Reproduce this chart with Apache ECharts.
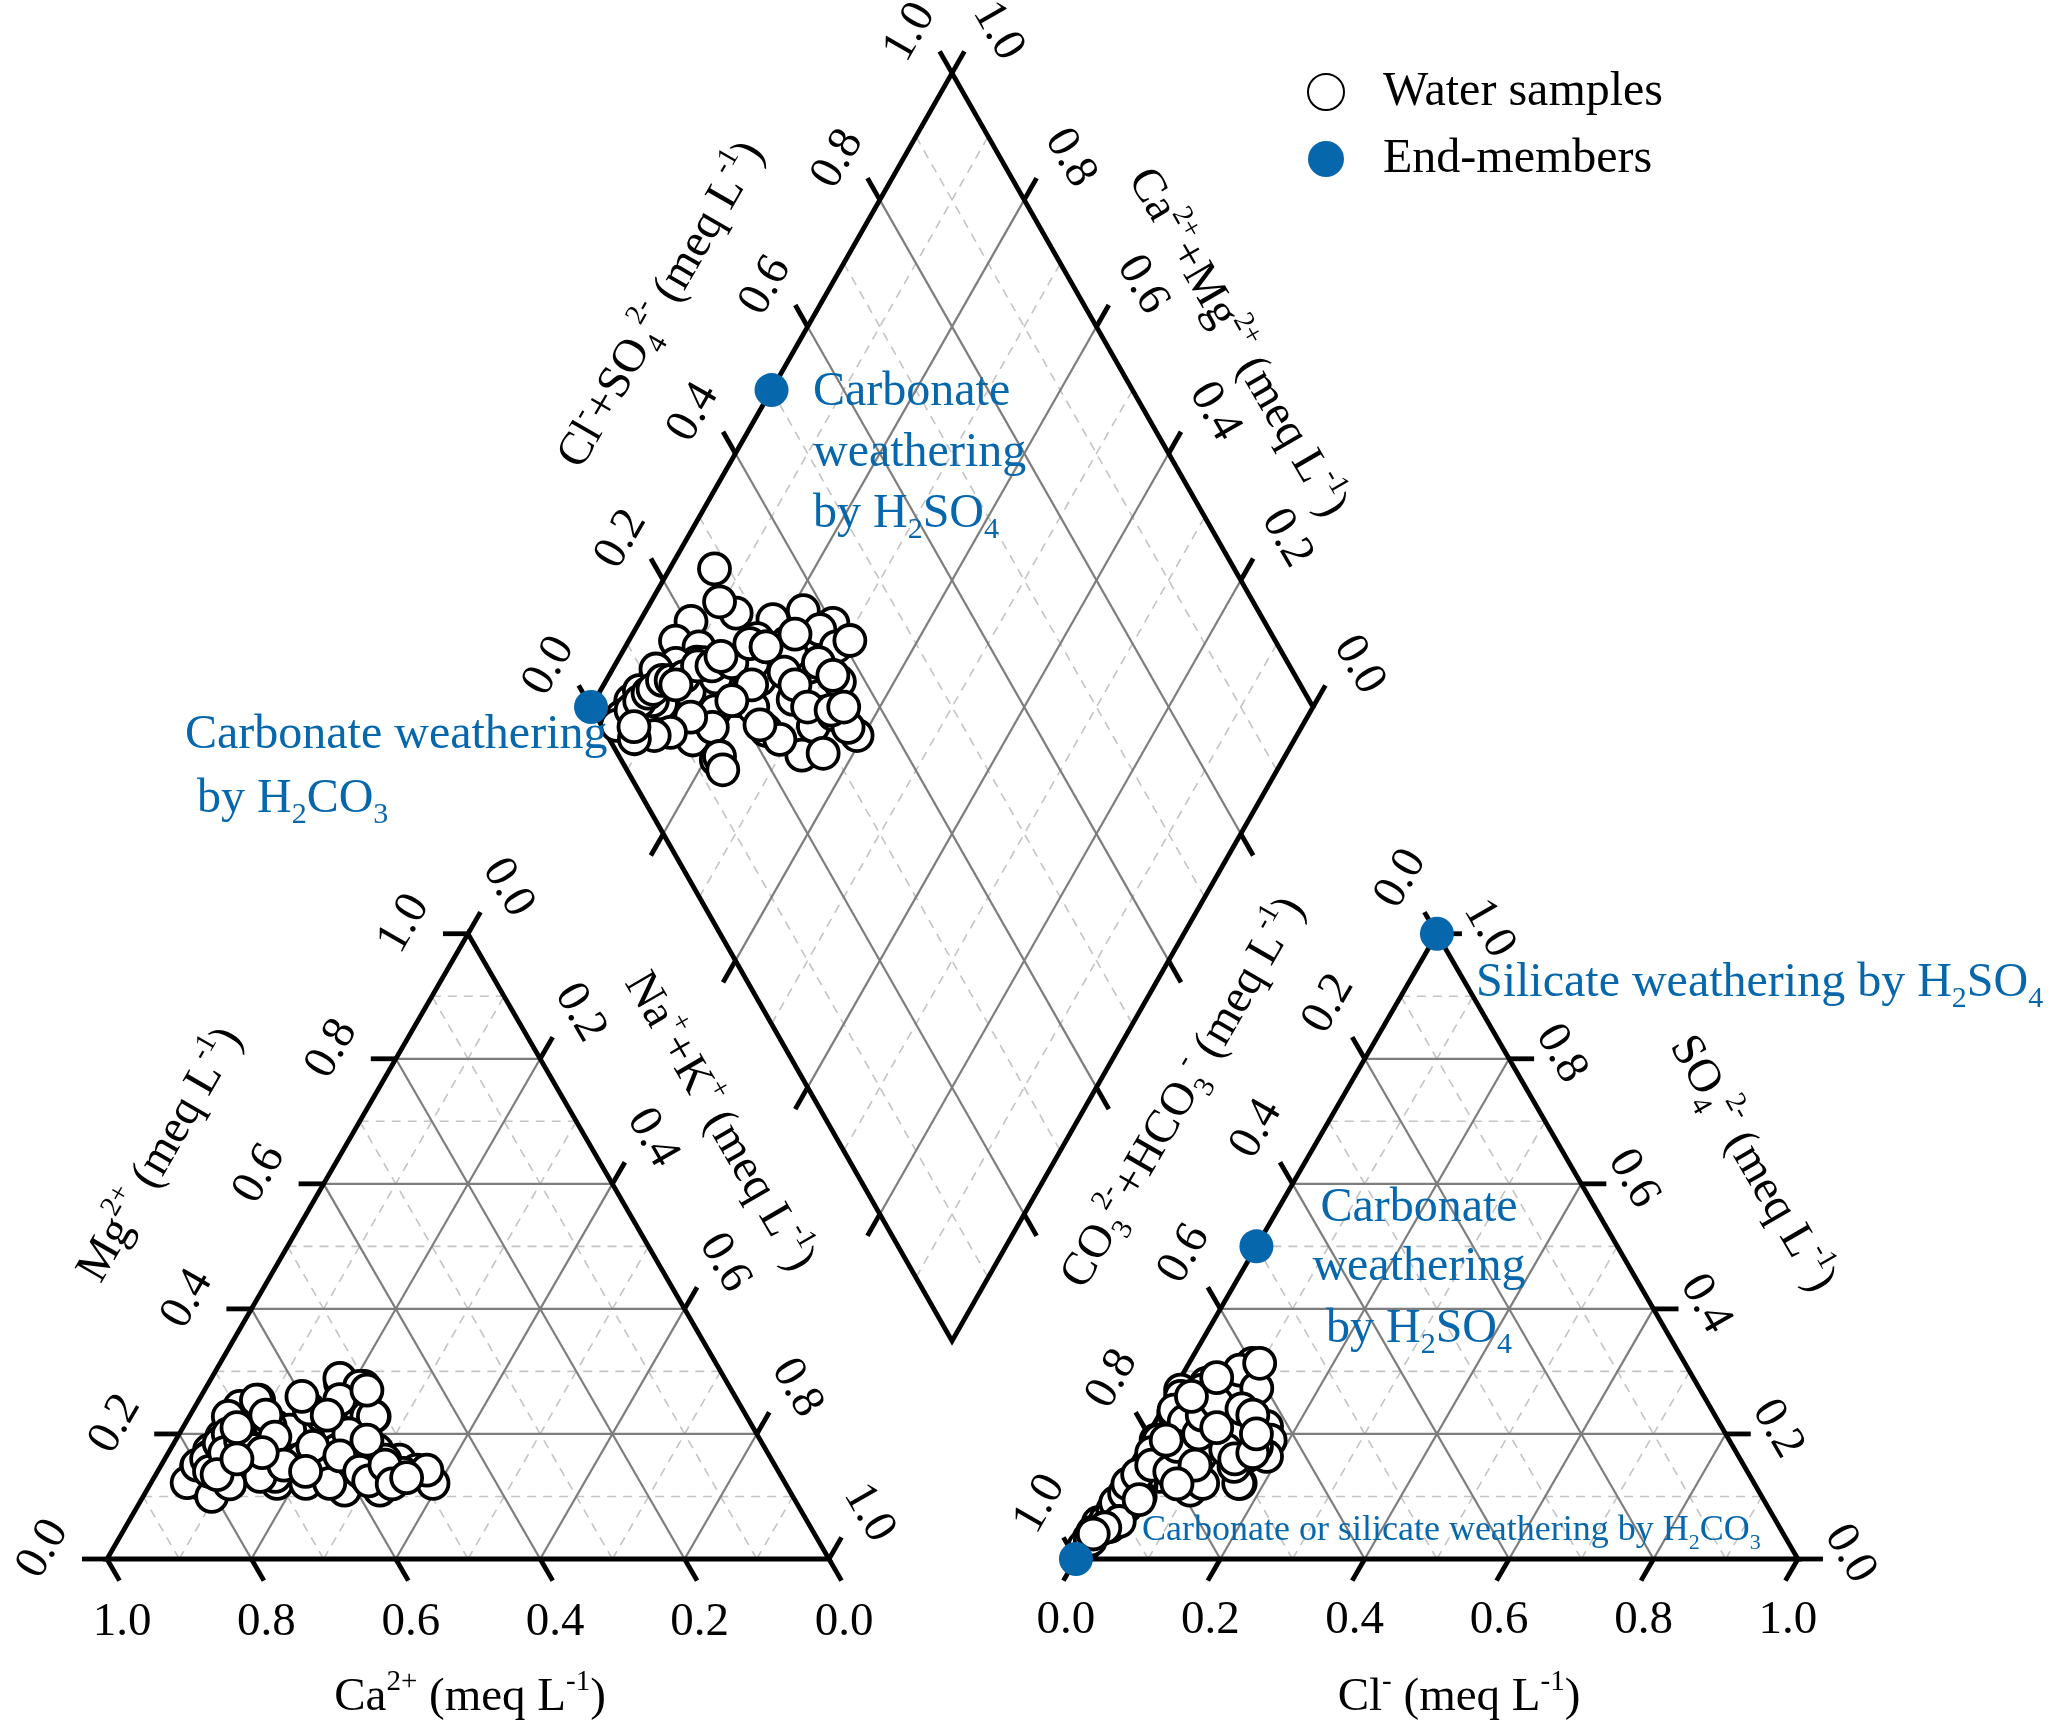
<!DOCTYPE html>
<html><head><meta charset="utf-8">
<script src="https://cdn.jsdelivr.net/npm/echarts@6/dist/echarts.min.js"></script>
<style>html,body{margin:0;padding:0;background:#fff}#c{width:2067px;height:1733px}</style>
</head><body><div id="c"></div>
<script>
// ---------------- DATA ----------------
// axis tick values and grid levels
const tickValues = [0, 0.2, 0.4, 0.6, 0.8, 1.0];
const majorValues = [0.2, 0.4, 0.6, 0.8];
const minorValues = [0.1, 0.3, 0.5, 0.7, 0.9];
// water samples: cation fractions (Na+ + K+, Mg2+; Ca2+ = 1 - the rest)
const sampleNaK = [0.062,0.071,0.127,0.095,0.183,0.218,0.269,0.256,0.176,0.220,0.065,0.102,0.158,0.111,0.229,0.271,0.324,0.203,0.124,0.069,
  0.061,0.175,0.261,0.326,0.391,0.330,0.167,0.215,0.200,0.274,0.224,0.184,0.323,0.287,0.083,0.066,0.217,0.232,0.358,0.178,
  0.212,0.292,0.306,0.050,0.055,0.050,0.054,0.095,0.146,0.150,0.190,0.246,0.248,0.255,0.342,0.080,0.060,0.050,0.120,0.372,
  0.058,0.063,0.068,0.072,0.078,0.090,0.105,0.115,0.135,0.160,0.170,0.195,0.205,0.235,0.240,0.265,0.280,0.300,0.310,0.335,
  0.350,0.140,0.195,0.225,0.190,0.130,0.110,0.085,0.075,0.100];
const sampleMg = [0.244,0.158,0.212,0.228,0.281,0.276,0.174,0.228,0.217,0.196,0.148,0.142,0.180,0.158,0.254,0.126,0.148,0.270,0.212,0.121,
  0.196,0.121,0.148,0.158,0.121,0.137,0.132,0.121,0.161,0.110,0.158,0.228,0.110,0.174,0.254,0.174,0.206,0.174,0.142,0.289,
  0.276,0.132,0.158,0.148,0.174,0.122,0.228,0.100,0.132,0.206,0.161,0.228,0.121,0.228,0.137,0.254,0.164,0.150,0.212,0.142,
  0.160,0.185,0.200,0.140,0.170,0.190,0.230,0.175,0.195,0.240,0.150,0.180,0.140,0.200,0.165,0.190,0.140,0.125,0.150,0.120,
  0.130,0.260,0.255,0.270,0.230,0.170,0.120,0.135,0.210,0.160];
// anion fractions (SO4 2-, Cl-; CO3 2- + HCO3- = 1 - the rest)
const sampleSO4 = [0.270,0.190,0.260,0.206,0.244,0.212,0.313,0.302,0.206,0.281,0.142,0.153,0.110,0.132,0.121,0.222,0.190,0.169,0.116,0.068,
  0.052,0.142,0.132,0.164,0.164,0.164,0.090,0.100,0.190,0.121,0.169,0.126,0.148,0.121,0.125,0.084,0.100,0.116,0.185,0.233,
  0.238,0.273,0.313,0.058,0.043,0.033,0.065,0.080,0.110,0.160,0.220,0.200,0.170,0.270,0.200,0.075,0.100,0.020,0.170,0.180,
  0.045,0.062,0.078,0.090,0.105,0.120,0.135,0.150,0.140,0.180,0.200,0.230,0.150,0.250,0.175,0.210,0.240,0.160,0.230,0.170,
  0.200,0.190,0.260,0.290,0.120,0.060,0.050,0.030,0.040,0.095];
const sampleCl = [0.010,0.016,0.015,0.055,0.077,0.158,0.088,0.076,0.078,0.040,0.027,0.044,0.103,0.050,0.167,0.112,0.174,0.066,0.032,0.022,
  0.021,0.027,0.092,0.154,0.182,0.090,0.025,0.032,0.020,0.165,0.055,0.026,0.145,0.115,0.027,0.028,0.039,0.017,0.100,0.019,
  0.017,0.114,0.098,0.002,0.002,0.002,0.015,0.020,0.020,0.036,0.040,0.100,0.050,0.040,0.130,0.015,0.020,0.001,0.020,0.160,
  0.008,0.010,0.012,0.010,0.015,0.012,0.018,0.030,0.060,0.050,0.070,0.060,0.090,0.070,0.120,0.090,0.110,0.140,0.130,0.160,
  0.150,0.030,0.030,0.050,0.080,0.030,0.015,0.005,0.004,0.040];
// end-members in the anion triangle (SO4, Cl)
const endSO4 = [1.0, 0.5, 0.0];
const endCl = [0.0, 0.0, 0.0];
// end-members in the diamond (Cl+SO4, Na+K)
const endDiaA = [0.5, 0.0];
const endDiaNa = [0.0, 0.0];

// ---------------- LAYOUT ----------------
const FONT = '"Liberation Serif", "Times New Roman", serif';
const BLUE = '#0767ad';
const U = 722, X0PX = 107, Y0PX = 1559, WPX = 2067, HPX = 1733;
const H = Math.sqrt(3) / 2;
const OXR = 1.342;
const DCX = 1.1704, DCY = 1.180, DHW = 0.5, DHH = 0.878;

function cat(na, mg) { return [na + mg / 2, mg * H]; }
function an(so4, cl) { return [OXR + cl + so4 / 2, so4 * H]; }
function dia(a, na) { return [DCX - DHW + (a + na) * DHW, DCY + (a - na) * DHH]; }
function px(x, y) { return [(x - X0PX) / U, (Y0PX - y) / U]; }
function norm(v) { const l = Math.hypot(v[0], v[1]); return [v[0] / l, v[1] / l]; }

// grid lines
function levelSegs(vals) {
  const s = [];
  vals.forEach(v => {
    s.push([...cat(0, v), ...cat(1 - v, v)]);
    s.push([...cat(1 - v, 0), ...cat(0, 1 - v)]);
    s.push([...cat(v, 0), ...cat(v, 1 - v)]);
    s.push([...an(v, 0), ...an(v, 1 - v)]);
    s.push([...an(0, v), ...an(1 - v, v)]);
    s.push([...an(1 - v, 0), ...an(0, 1 - v)]);
    s.push([...dia(v, 0), ...dia(v, 1)]);
    s.push([...dia(0, v), ...dia(1, v)]);
  });
  return s;
}
const minorSegs = levelSegs(minorValues);
const majorSegs = levelSegs(majorValues);

// ticks and tick labels
const TL = 25 / U;
const tickSegs = [];
const texts = [];
function addTick(p, dir, label, off, rot) {
  tickSegs.push([p[0], p[1], p[0] + dir[0] * TL, p[1] + dir[1] * TL]);
  if (label != null) texts.push({ x: p[0] + off[0] / U, y: p[1] - off[1] / U, text: label, rot: rot, size: 47 });
}
tickValues.forEach(t => {
  addTick(cat(t, 0), norm([0.5, -H]), (1 - t).toFixed(1), [15, 64], 0);
  addTick(cat(0, t), [-1, 0], t.toFixed(1), [-64, -10], 60);
  addTick(cat(t, 1 - t), norm([0.5, H]), t.toFixed(1), [40, -46], -60);
  addTick(an(0, t), norm([-0.5, -H]), t.toFixed(1), [-10, 62], 0);
  addTick(an(1 - t, 0), norm([-0.5, H]), t.toFixed(1), [-36, -55], 60);
  addTick(an(t, 1 - t), [1, 0], t.toFixed(1), [52, -5], -60);
  addTick(dia(t, 0), norm([-DHW, DHH]), t.toFixed(1), [-42, -41], 60);
  addTick(dia(1, t), norm([DHW, DHH]), (1 - t).toFixed(1), [46, -42], -60);
});
majorValues.forEach(t => {
  addTick(dia(0, t), norm([-DHW, -DHH]), null);
  addTick(dia(t, 1), norm([DHW, -DHH]), null);
});

// outlines
const polys = [
  [cat(0, 0), cat(1, 0), cat(0, 1)],
  [an(0, 0), an(0, 1), an(1, 0)],
  [dia(0, 0), dia(1, 0), dia(1, 1), dia(0, 1)]
];

// titles & annotations (pixel anchors)
function T(pxx, pxy, text, rot, opt) { const p = px(pxx, pxy); return Object.assign({ x: p[0], y: p[1], text: text, rot: rot, size: 47 }, opt || {}); }
texts.push(
  T(470, 1698, 'Ca{sup|2+} (meq L{sup|-1})', 0),
  T(161, 1155, 'Mg{sup|2+} (meq L{sup|-1})', 60),
  T(719, 1122, 'Na{sup|+}+K{sup|+} (meq L{sup|-1})', -60),
  T(662, 305, 'Cl{sup|-}+SO{sub|4}{sup|2-} (meq L{sup|-1})', 60),
  T(1237, 343, 'Ca{sup|2+}+Mg{sup|2+} (meq L{sup|-1})', -60),
  T(1184, 1093, 'CO{sub|3}{sup|2-}+HCO{sub|3}{sup|-} (meq L{sup|-1})', 60),
  T(1752, 1164, 'SO{sub|4}{sup|2-} (meq L{sup|-1})', -60),
  T(1459, 1698, 'Cl{sup|-} (meq L{sup|-1})', 0),
  T(185, 735, 'Carbonate weathering', 0, { color: BLUE, align: 'left', size: 48 }),
  T(197, 799, 'by H{sub|2}CO{sub|3}', 0, { color: BLUE, align: 'left', size: 48 }),
  T(813, 392, 'Carbonate', 0, { color: BLUE, align: 'left', size: 48 }),
  T(813, 453, 'weathering', 0, { color: BLUE, align: 'left', size: 48 }),
  T(813, 514, 'by H{sub|2}SO{sub|4}', 0, { color: BLUE, align: 'left', size: 48 }),
  T(1419, 1208, 'Carbonate', 0, { color: BLUE, size: 48 }),
  T(1419, 1267, 'weathering', 0, { color: BLUE, size: 48 }),
  T(1419, 1329, 'by H{sub|2}SO{sub|4}', 0, { color: BLUE, size: 48 }),
  T(1476, 983, 'Silicate weathering by H{sub|2}SO{sub|4}', 0, { color: BLUE, align: 'left', size: 48 }),
  T(1142, 1531, 'Carbonate or silicate weathering by H{sub|2}CO{sub|3}', 0, { color: BLUE, align: 'left', size: 36 })
);

function richFor(fs, color) {
  const s = Math.round(fs * 0.62);
  return {
    sup: { fontSize: s, fontFamily: FONT, fill: color, lineHeight: s, verticalAlign: 'top' },
    sub: { fontSize: s, fontFamily: FONT, fill: color, lineHeight: s, verticalAlign: 'bottom' }
  };
}

function segSeries(name, segs, style, z) {
  return {
    type: 'custom', name: name, z: z, silent: true, clip: false, animation: false,
    data: segs, encode: { x: [0, 2], y: [1, 3] },
    renderItem: function (params, api) {
      const a = api.coord([api.value(0), api.value(1)]);
      const b = api.coord([api.value(2), api.value(3)]);
      return { type: 'line', shape: { x1: a[0], y1: a[1], x2: b[0], y2: b[1] }, style: style };
    }
  };
}

const catPts = sampleNaK.map((na, i) => cat(na, sampleMg[i]));
const anPts = sampleSO4.map((s, i) => an(s, sampleCl[i]));
const diaPts = sampleNaK.map((na, i) => dia(sampleSO4[i] + sampleCl[i], na));
const endAnPts = endSO4.map((s, i) => an(s, endCl[i]));
const endDiaPts = endDiaA.map((a, i) => dia(a, endDiaNa[i]));

const sampleStyle = { color: '#ffffff', borderColor: '#000000', borderWidth: 3.8, opacity: 1 };
function sampleSeries(pts) {
  return { type: 'scatter', name: 'Water samples', z: 5, data: pts, symbol: 'circle', symbolSize: 31,
    itemStyle: sampleStyle, emphasis: { disabled: true }, silent: true, animation: false, large: false };
}
function endSeries(pts) {
  return { type: 'scatter', name: 'End-members', z: 6, data: pts, symbol: 'circle', symbolSize: 34,
    itemStyle: { color: BLUE, opacity: 1 }, emphasis: { disabled: true }, silent: true, animation: false };
}

const chart = echarts.init(document.getElementById('c'), null, { renderer: 'canvas' });
chart.setOption({
  animation: false,
  backgroundColor: '#ffffff',
  grid: { left: 0, top: 0, width: WPX, height: HPX },
  xAxis: { type: 'value', min: -X0PX / U, max: (WPX - X0PX) / U, show: false },
  yAxis: { type: 'value', min: -(HPX - Y0PX) / U, max: Y0PX / U, show: false },
  legend: {
    data: ['Water samples', 'End-members'], orient: 'vertical', left: 1302, top: 63,
    itemWidth: 36, itemHeight: 36, itemGap: 19, icon: 'circle',
    textStyle: { fontFamily: FONT, fontSize: 48, color: '#000', padding: [0, 0, 0, 34] }
  },
  series: [
    segSeries('minor', minorSegs, { stroke: '#c4c4c4', lineWidth: 1.6, lineDash: [9, 7] }, 1),
    segSeries('major', majorSegs, { stroke: '#7d7d7d', lineWidth: 2.2 }, 2),
    segSeries('ticks', tickSegs, { stroke: '#000', lineWidth: 4.8, lineCap: 'butt' }, 3),
    {
      type: 'custom', name: 'outline', z: 3, silent: true, clip: false, animation: false,
      data: polys.map(p => p[0]),
      renderItem: function (params, api) {
        const pts = polys[params.dataIndex].map(p => api.coord(p));
        return { type: 'polygon', shape: { points: pts }, style: { fill: 'none', stroke: '#000', lineWidth: 4.8, lineJoin: 'miter' } };
      }
    },
    sampleSeries(catPts),
    sampleSeries(anPts),
    sampleSeries(diaPts),
    endSeries(endAnPts),
    endSeries(endDiaPts),
    {
      type: 'custom', name: 'texts', z: 7, silent: true, clip: false, animation: false,
      data: texts.map(t => [t.x, t.y]),
      renderItem: function (params, api) {
        const t = texts[params.dataIndex];
        const p = api.coord([t.x, t.y]);
        const color = t.color || '#000';
        return {
          type: 'text', x: p[0], y: p[1], rotation: t.rot * Math.PI / 180,
          style: {
            text: t.text, fill: color, fontSize: t.size, fontFamily: FONT,
            align: t.align || 'center', verticalAlign: 'middle', lineHeight: Math.round(t.size * 1.3),
            rich: richFor(t.size, color)
          }
        };
      }
    }
  ]
});
</script></body></html>
